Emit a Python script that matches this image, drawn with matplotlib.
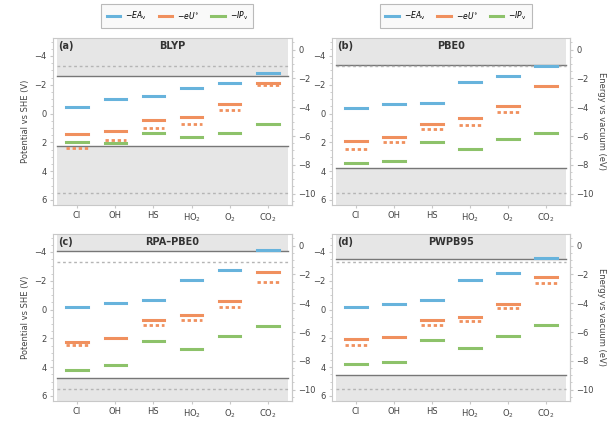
import matplotlib
matplotlib.use("Agg")
import matplotlib.pyplot as plt
from matplotlib.ticker import MultipleLocator
from matplotlib.lines import Line2D

species = ["Cl", "OH", "HS", "HO$_2$", "O$_2$", "CO$_2$"]
methods = ["BLYP", "PBE0", "RPA\u2013PBE0", "PWPB95"]
panel_tags = ["(a)", "(b)", "(c)", "(d)"]

# Potentials vs SHE (V)
ea_v = {
    "BLYP":   [-0.49, -1.01, -1.19, -1.79, -2.15, -2.79],
    "PBE0":   [-0.37, -0.69, -0.71, -2.18, -2.62, -3.32],
    "RPA\u2013PBE0": [-0.19, -0.46, -0.64, -2.07, -2.78, -4.12],
    "PWPB95": [-0.19, -0.41, -0.69, -2.07, -2.55, -3.59],
}
redox_solid = {
    "BLYP":   [1.41, 1.23, 0.43, 0.22, -0.64, -2.15],
    "PBE0":   [1.90, 1.60, 0.69, 0.29, -0.53, -1.89],
    "RPA\u2013PBE0": [2.23, 1.95, 0.74, 0.39, -0.57, -2.60],
    "PWPB95": [2.05, 1.88, 0.74, 0.50, -0.41, -2.26],
}
redox_dotted = {
    "BLYP":   [2.37, 1.85, 1.00, 0.70, -0.25, -1.96],
    "PBE0":   [2.46, 1.97, 1.10, 0.78, -0.14, -1.89],
    "RPA\u2013PBE0": [2.46, 1.95, 1.08, 0.74, -0.16, -1.95],
    "PWPB95": [2.46, 1.88, 1.08, 0.78, -0.12, -1.86],
}
ip_v = {
    "BLYP":   [2.00, 2.02, 1.34, 1.64, 1.34, 0.73],
    "PBE0":   [3.44, 3.30, 2.00, 2.46, 1.80, 1.33],
    "RPA\u2013PBE0": [4.23, 3.84, 2.18, 2.74, 1.81, 1.12],
    "PWPB95": [3.79, 3.66, 2.11, 2.64, 1.84, 1.08],
}
band_top = {"BLYP": -2.63, "PBE0": -3.38, "RPA\u2013PBE0": -4.09, "PWPB95": -3.52}
band_bottom = {"BLYP": 2.23, "PBE0": 3.81, "RPA\u2013PBE0": 4.76, "PWPB95": 4.53}
ref_top = -3.33
ref_bottom = 5.50

SHE_OFFSET = 4.44
blue = "#67b3dc"
orange = "#f0905e"
green = "#8dc26a"
shade = "#e6e6e6"
spine_c = "#c8c8c8"
text_c = "#444444"
FS = 6

fig = plt.figure(figsize=(6.14, 4.22), dpi=100)
W, H = 614, 422
boxes = [(53, 38, 292, 205), (332, 38, 570, 205), (53, 234, 292, 401), (332, 234, 570, 401)]

half = 0.28
for i, m in enumerate(methods):
    l, t, r, b = boxes[i]
    ax = fig.add_axes([l / W, 1 - b / H, (r - l) / W, (b - t) / H])
    ax.set_xlim(-0.63, 5.63)
    ax.set_ylim(6.35, -5.25)
    # shaded regions
    ax.fill_between([-0.52, 5.52], -5.25, band_top[m], color=shade, lw=0, zorder=0)
    ax.fill_between([-0.52, 5.52], band_bottom[m], 6.35, color=shade, lw=0, zorder=0)
    ax.plot([-0.52, 5.52], [band_top[m]] * 2, color="#777777", lw=1.0, zorder=1)
    ax.plot([-0.52, 5.52], [band_bottom[m]] * 2, color="#777777", lw=1.0, zorder=1)
    ax.plot([-0.52, 5.52], [ref_top] * 2, color="#b5b5b5", lw=1.0, ls=(0, (2, 2)), zorder=1)
    ax.plot([-0.52, 5.52], [ref_bottom] * 2, color="#b5b5b5", lw=1.0, ls=(0, (2, 2)), zorder=1)
    for j in range(len(species)):
        ax.plot([j - half, j + half], [redox_dotted[m][j]] * 2, color=orange, lw=2.0,
                ls=(0, (1.2, 1.0)), solid_capstyle="butt", zorder=2)
        ax.plot([j - half, j + half], [ip_v[m][j]] * 2, color=green, lw=2.2, zorder=3)
        ax.plot([j - half, j + half], [redox_solid[m][j]] * 2, color=orange, lw=2.2, zorder=3)
        ax.plot([j - half, j + half], [ea_v[m][j]] * 2, color=blue, lw=2.2, zorder=3)
    ax.set_xticks(range(len(species)))
    ax.set_xticklabels(species)
    ax.yaxis.set_major_locator(MultipleLocator(2))
    ax.yaxis.set_minor_locator(MultipleLocator(0.5))
    ax.tick_params(axis="both", labelsize=FS, colors=spine_c, labelcolor=text_c, length=2.5, width=0.8, pad=2)
    ax.tick_params(axis="x", pad=2)
    ax.tick_params(axis="y", which="minor", length=1.3, width=0.6, colors=spine_c)
    for s in ax.spines.values():
        s.set_color(spine_c)
        s.set_linewidth(0.8)
    sec = ax.secondary_yaxis("right", functions=(lambda v: -v - SHE_OFFSET, lambda e: -e - SHE_OFFSET))
    sec.set_yticks([0, -2, -4, -6, -8, -10])
    sec.set_yticklabels(["0", "\u22122", "\u22124", "\u22126", "\u22128", "\u221210"])
    sec.yaxis.set_minor_locator(MultipleLocator(0.5))
    sec.tick_params(axis="y", labelsize=FS, colors=spine_c, labelcolor=text_c, length=2.5, width=0.8, pad=2)
    sec.tick_params(axis="y", which="minor", length=1.3, width=0.6, colors=spine_c)
    sec.spines["right"].set_color(spine_c)
    sec.spines["right"].set_linewidth(0.8)
    ax.text(-0.5, -4.72, panel_tags[i], fontsize=7, fontweight="bold", color="#333333", va="center", ha="left")
    ax.text(2.5, -4.72, m, fontsize=7, fontweight="bold", color="#333333", va="center", ha="center")
    if i % 2 == 0:
        ax.set_ylabel("Potential vs SHE (V)", fontsize=FS, color=text_c, labelpad=3)
    else:
        sec.set_ylabel("Energy vs vacuum (eV)", fontsize=FS, color=text_c, rotation=270, labelpad=9)
    if i < 2:
        handles = [Line2D([], [], color=blue, lw=2.2),
                   Line2D([], [], color=orange, lw=2.2),
                   Line2D([], [], color=green, lw=2.2)]
        labels = [r"$-EA_\mathrm{v}$", r"$-eU^{\circ}$", r"$-IP_\mathrm{v}$"]
        leg = ax.legend(handles, labels, loc="lower center", bbox_to_anchor=(0.52, 1.04), ncol=3,
                        fontsize=5.5, frameon=True, fancybox=False, handlelength=1.8,
                        columnspacing=1.6, handletextpad=0.6, borderpad=0.7)
        leg.get_frame().set_edgecolor("#aaaaaa")
        leg.get_frame().set_facecolor("#f8f8f8")
        leg.get_frame().set_linewidth(0.8)

fig.savefig("out.png", dpi=100)
